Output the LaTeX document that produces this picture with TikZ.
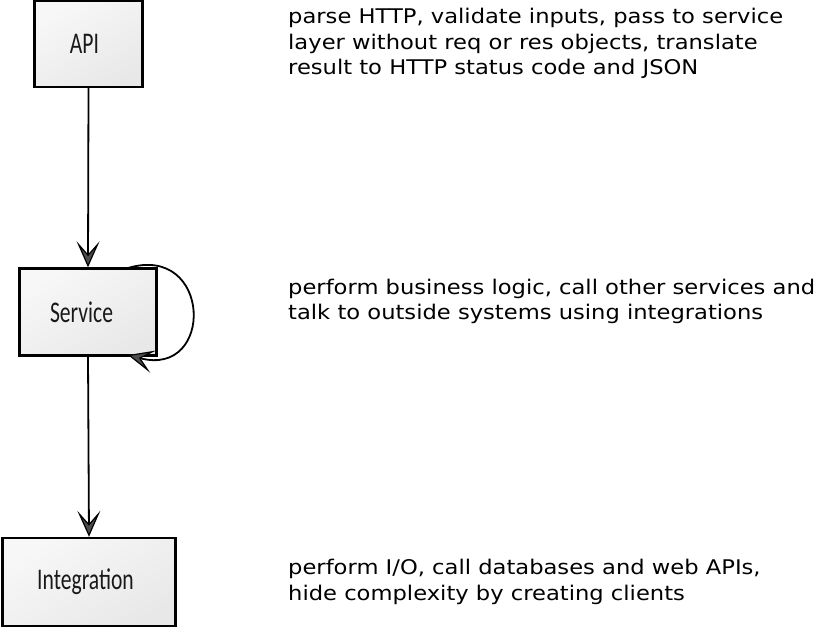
\documentclass[tikz,border=0pt]{standalone}
\usepackage{fontspec}
\setmainfont{DejaVu Sans}
\newfontfamily\descfont[FakeStretch=1.12]{DejaVu Sans}
\newfontfamily\handfont[FakeStretch=0.72]{Carlito}
\usetikzlibrary{arrows.meta}
\begin{document}
\begin{tikzpicture}[x=1pt,y=-1pt,
  box/.style={draw=black,line width=2.4pt,shading=axis,top color=white!97!black,bottom color=black!9,shading angle=30,inner sep=0pt,font=\handfont\fontsize{30}{32}\selectfont,text=black!90},
  desc/.style={anchor=north west,align=left,inner sep=0pt,font=\descfont\fontsize{20.2}{25.5}\selectfont},
  conn/.style={line width=1.8pt,-{Stealth[length=26pt,width=23pt,inset=13pt,fill=black!70,line width=1.2pt]}}]
\useasboundingbox (0,0) rectangle (816,630);
\node[box,minimum width=108pt,minimum height=86pt] (api) at (88.5,44) {\hspace*{-8pt}API};
\node[box,minimum width=137pt,minimum height=87pt] (svc) at (88,312) {\hspace*{-13pt}Service};
\node[box,minimum width=173pt,minimum height=88pt] (int) at (89,582) {\hspace*{-7pt}Integration};
\draw[conn] (api.south) -- (svc.north);
\draw[conn] (svc.south) -- (int.north);
\coordinate (ls) at (128,268);
\coordinate (le) at (128,355);
\draw[conn] (ls) .. controls (212,243) and (215,378) .. (le);
\node[desc] (t1) at (288,8) {parse HTTP, validate inputs, pass to service\\layer without req or res objects, translate\\result to HTTP status code and JSON};
\node[desc] (t2) at (288,278.5) {perform business logic, call other services and\\talk to outside systems using integrations};
\node[desc] (t3) at (288,559) {perform I/O, call databases and web APIs,\\hide complexity by creating clients};
\end{tikzpicture}
\end{document}
